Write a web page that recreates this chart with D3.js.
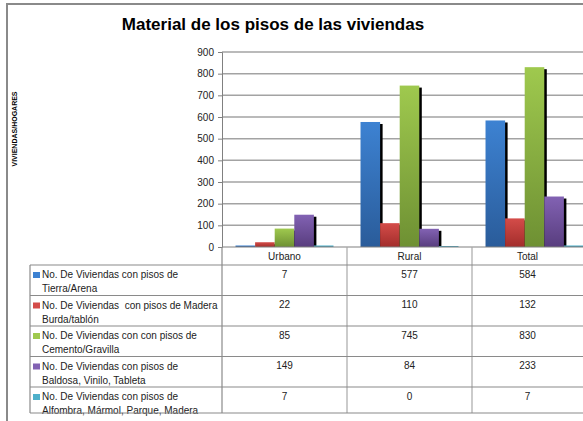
<!DOCTYPE html>
<html>
<head>
<meta charset="utf-8">
<script src="https://cdn.jsdelivr.net/npm/d3@7"></script>
<style>
  body { margin: 0; background: #fff; }
  svg { display: block; font-family: "Liberation Sans", Arial, sans-serif; }
</style>
</head>
<body>
<div id="chart"></div>
<script>
var categories = ["Urbano", "Rural", "Total"];
var seriesNames = [
  ["No. De Viviendas con pisos de", "Tierra/Arena"],
  ["No. De Viviendas  con pisos de Madera", "Burda/tablón"],
  ["No. De Viviendas con con pisos de", "Cemento/Gravilla"],
  ["No. De Viviendas con pisos de", "Baldosa, Vinilo, Tableta"],
  ["No. De Viviendas con pisos de", "Alfombra, Mármol, Parque, Madera"]
];
var tierra = [7, 577, 584];
var madera = [22, 110, 132];
var cemento = [85, 745, 830];
var baldosa = [149, 84, 233];
var alfombra = [7, 0, 7];
var yTicks = [0, 100, 200, 300, 400, 500, 600, 700, 800, 900];

var series = [tierra, madera, cemento, baldosa, alfombra];
// top / bottom of each bar gradient
var COLORS = [
  ["#3d82d2", "#2a5c9a"],
  ["#d44c49", "#a22d2b"],
  ["#9fc94e", "#6e9033"],
  ["#8262b3", "#583d7e"],
  ["#4eb0ca", "#3a93ab"]
];

var W = 583, H = 421;
var plotLeft = 222, plotRight = 597, plotTop = 52, plotBottom = 247;
var tableLeft = 30, headerBottom = 265, rowH = 30.5, tableBottom = 413;

var svg = d3.select("#chart").append("svg")
  .attr("width", W).attr("height", H);

var defs = svg.append("defs");
COLORS.forEach(function (c, i) {
  var g = defs.append("linearGradient").attr("id", "grad" + i)
    .attr("x1", 0).attr("y1", 0).attr("x2", 0).attr("y2", 1);
  g.append("stop").attr("offset", "0%").attr("stop-color", c[0]);
  g.append("stop").attr("offset", "100%").attr("stop-color", c[1]);
});

// chart frame
svg.append("path")
  .attr("d", "M7,424V4H590")
  .attr("fill", "none").attr("stroke", "#8a8a8a").attr("stroke-width", 2);

svg.append("text")
  .attr("x", 273).attr("y", 30)
  .attr("text-anchor", "middle")
  .style("font-size", "17px").style("font-weight", "bold")
  .text("Material de los pisos de las viviendas");

svg.append("text")
  .attr("transform", "translate(17,129) rotate(-90)")
  .attr("text-anchor", "middle")
  .style("font-size", "7px").style("font-weight", "bold")
  .text("VIVIENDAS/HOGARES");

var x = d3.scaleBand().domain(categories).range([plotLeft, plotRight])
  .paddingInner(0).paddingOuter(0);
var inner = d3.scaleBand().domain(d3.range(series.length))
  .range([0, x.bandwidth()]).paddingOuter(0.69).paddingInner(0);
var y = d3.scaleLinear().domain([0, 900]).range([plotBottom, plotTop]);

// gridlines
svg.append("g").selectAll("line").data(yTicks.slice(1)).enter().append("line")
  .attr("x1", plotLeft).attr("x2", W)
  .attr("y1", function (d) { return y(d); })
  .attr("y2", function (d) { return y(d); })
  .attr("stroke", "#a3a3a3").attr("stroke-width", 1.5);

// y axis
var yAxis = svg.append("g")
  .attr("transform", "translate(" + plotLeft + ",0)")
  .call(d3.axisLeft(y).tickValues(yTicks).tickSize(4).tickPadding(4));
yAxis.select(".domain").attr("stroke", "#808080");
yAxis.selectAll(".tick line").attr("stroke", "#808080");
yAxis.selectAll(".tick text")
  .style("font-size", "10px").style("font-family", "'Liberation Sans', Arial, sans-serif")
  .attr("fill", "#222");

// bars
series.forEach(function (vals, si) {
  var g = svg.append("g");
  var bx = function (d, i) { return x(categories[i]) + inner(si); };
  g.selectAll("rect.shadow").data(vals).enter().append("rect")
    .attr("class", "shadow")
    .attr("x", function (d, i) { return bx(d, i) + 2.5; })
    .attr("y", function (d) { return y(d) + 2; })
    .attr("width", inner.bandwidth())
    .attr("height", function (d) { return Math.max(0, plotBottom - y(d) - 2); })
    .attr("fill", "#000");
  g.selectAll("rect.bar").data(vals).enter().append("rect")
    .attr("class", "bar")
    .attr("x", bx)
    .attr("y", function (d) { return d === 0 ? plotBottom - 1 : y(d); })
    .attr("width", inner.bandwidth())
    .attr("height", function (d) { return d === 0 ? 1 : plotBottom - y(d); })
    .attr("fill", "url(#grad" + si + ")");
});

// x baseline
svg.append("line")
  .attr("x1", plotLeft).attr("x2", W).attr("y1", plotBottom).attr("y2", plotBottom)
  .attr("stroke", "#808080").attr("stroke-width", 1.2);

// data table
var lineCol = "#8a8a8a";
var tbl = svg.append("g");
var rowTop = function (i) { return headerBottom + i * rowH; };

// vertical lines and header labels
categories.forEach(function (c) {
  tbl.append("line")
    .attr("x1", x(c)).attr("x2", x(c)).attr("y1", plotBottom).attr("y2", tableBottom)
    .attr("stroke", x(c) === plotLeft ? lineCol : "#a8a8a8").attr("stroke-width", 1.2);
  var cx = (x(c) + Math.min(x(c) + x.bandwidth(), W)) / 2;
  tbl.append("text")
    .attr("x", cx).attr("y", 259.5)
    .attr("text-anchor", "middle")
    .style("font-size", "10px").attr("fill", "#222")
    .text(c);
});
tbl.append("line")
  .attr("x1", tableLeft).attr("x2", tableLeft).attr("y1", headerBottom).attr("y2", tableBottom)
  .attr("stroke", lineCol).attr("stroke-width", 1.2);

series.forEach(function (vals, si) {
  tbl.append("line")
    .attr("x1", tableLeft).attr("x2", W)
    .attr("y1", rowTop(si)).attr("y2", rowTop(si))
    .attr("stroke", lineCol).attr("stroke-width", 1.2);
  tbl.append("rect")
    .attr("x", 33).attr("y", rowTop(si) + 7)
    .attr("width", 7).attr("height", 6)
    .attr("fill", COLORS[si][0]);
  var t = tbl.append("text")
    .attr("xml:space", "preserve")
    .style("white-space", "pre")
    .style("font-size", "10px").attr("fill", "#222");
  seriesNames[si].forEach(function (line, li) {
    t.append("tspan")
      .attr("x", 42).attr("y", rowTop(si) + 13 + li * 14)
      .text(line);
  });
  vals.forEach(function (v, ci) {
    var c = categories[ci];
    var cx = (x(c) + Math.min(x(c) + x.bandwidth(), W)) / 2;
    tbl.append("text")
      .attr("x", cx).attr("y", rowTop(si) + 12.5)
      .attr("text-anchor", "middle")
      .style("font-size", "10px").attr("fill", "#222")
      .text(v);
  });
});
tbl.append("line")
  .attr("x1", tableLeft).attr("x2", W)
  .attr("y1", tableBottom).attr("y2", tableBottom)
  .attr("stroke", lineCol).attr("stroke-width", 1.2);
</script>
</body>
</html>
